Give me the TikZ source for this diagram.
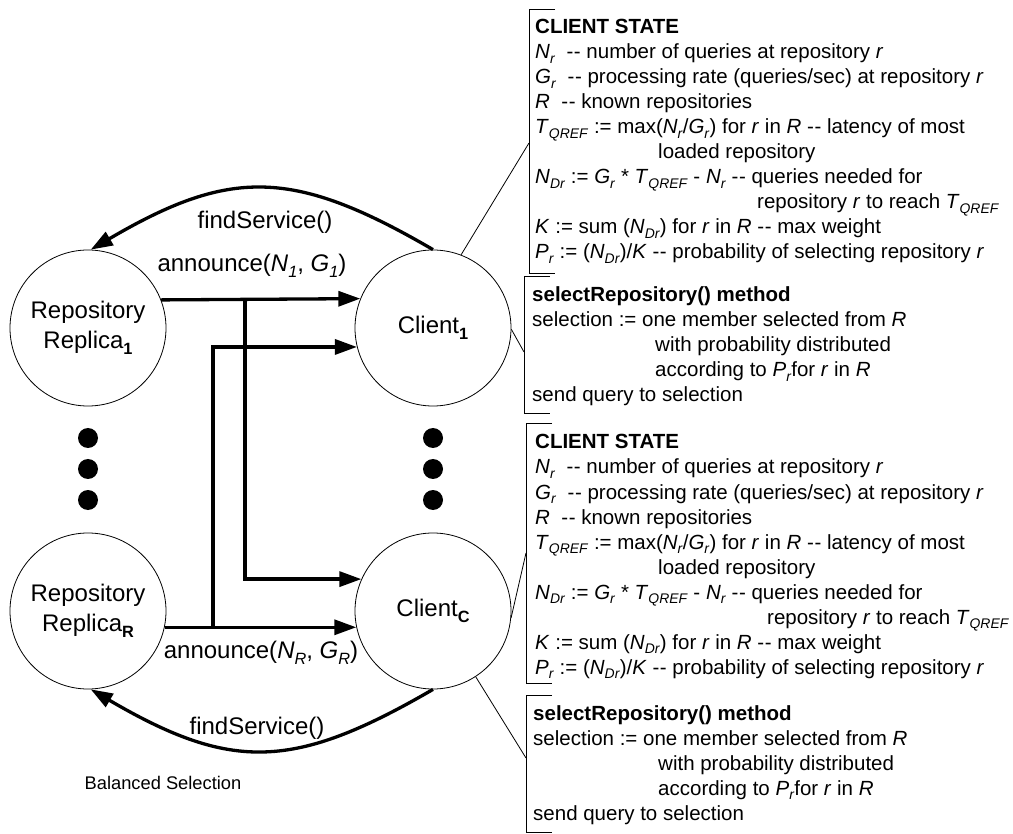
\documentclass[tikz,border=0pt]{standalone}
\usepackage{fontspec}
\setmainfont{Liberation Sans}
\usetikzlibrary{arrows.meta}
\newcommand\mysub[1]{\raisebox{-0.24em}{\fontsize{0.68em}{1em}\selectfont #1}}
\newcommand\vv[2]{\textit{#1}\mysub{\textit{#2}}}
\newcommand\dd{-\kern0.6pt-}
\begin{document}
\begin{tikzpicture}[x=1pt,y=-1pt,
  circ/.style={draw,circle,line width=0.8pt,minimum size=156pt,inner sep=0pt,align=center,font=\fontsize{24}{30}\selectfont},
  lbl/.style={font=\fontsize{24}{28}\selectfont,inner sep=0pt},
  txt/.style={anchor=base west,inner sep=0pt,font=\fontsize{20.5}{25}\selectfont},
  thick arrow/.style={line width=3.3pt,-{Triangle[length=22pt,width=15pt]}},
  thin/.style={line width=0.8pt},
  dot/.style={circle,fill=black,inner sep=0pt,minimum size=20pt}]
\useasboundingbox (0,0) rectangle (1013,834);
% circles
\node[circ] (r1) at (88,328) {Repository\\Replica\mysub{\bfseries 1}};
\node[circ] (c1) at (433,328) {Client\mysub{\bfseries 1}};
\node[circ] (rR) at (88,611) {Repository\\Replica\mysub{\bfseries R}};
\node[circ] (cC) at (433,611) {Client\mysub{\bfseries C}};
% dots
\node[dot] (d1) at (88,438) {};
\node[dot] (d2) at (88,469) {};
\node[dot] (d3) at (88,500) {};
\node[dot] (d4) at (433,438) {};
\node[dot] (d5) at (433,469) {};
\node[dot] (d6) at (433,500) {};
% announce arrows
\coordinate (j1) at (245,299);
\coordinate (j2) at (213,628);
\draw[thick arrow] (r1.21.8) -- (c1.158.2);
\draw[thick arrow] (j1) |- (cC.156.6);
\draw[thick arrow] (rR.-12.6) -- (cC.192.6);
\draw[thick arrow] (j2) |- (c1.194.1);
% findService arcs
\draw[thick arrow] (c1.90) .. controls (293,168) and (230,168) .. (r1.88);
\draw[thick arrow] (cC.-90) .. controls (294,770) and (232,772) .. (rR.-88);
% labels
\node[lbl] (a1) at (252,266) {announce(\vv{N}{1}, \vv{G}{1})};
\node[lbl] (aR) at (261,653) {announce(\vv{N}{R}, \vv{G}{R})};
\node[lbl] (f1) at (265,222) {findService()};
\node[lbl] (fR) at (257,728) {findService()};
\node[inner sep=0pt,font=\fontsize{18.3}{22}\selectfont] (bal) at (163,783) {Balanced Selection};
% brackets
\coordinate (b1t) at (529,9);   \coordinate (b1b) at (529,273);
\coordinate (b2t) at (524,276); \coordinate (b2b) at (524,413);
\coordinate (b3t) at (526,423); \coordinate (b3b) at (526,683);
\coordinate (b4t) at (526,695); \coordinate (b4b) at (526,832);
\draw[thin] ([xshift=26pt]b1t) -- (b1t) -- (b1b) -- ([xshift=26pt]b1b);
\draw[thin] ([xshift=26pt]b2t) -- (b2t) -- (b2b) -- ([xshift=26pt]b2b);
\draw[thin] ([xshift=26pt]b3t) -- (b3t) -- (b3b) -- ([xshift=26pt]b3b);
\draw[thin] ([xshift=26pt]b4t) -- (b4t) -- (b4b) -- ([xshift=26pt]b4b);
% callouts
\coordinate (k1) at (529,143);
\coordinate (k2) at (524,352);
\coordinate (k3) at (526,553);
\coordinate (k4) at (526,758);
\draw[thin] (c1.69.4) -- (k1);
\draw[thin] (c1.-1.5) -- (k2);
\draw[thin] (cC.-5) -- (k3);
\draw[thin] (cC.-57.8) -- (k4);
% box 1
\node[txt] (p1) at (535,34) {\textbf{CLIENT STATE}};
\node[txt] (p2) at (535,59) {\vv{N}{r}\ \ \dd\ number of queries at repository \textit{r}};
\node[txt] (p3) at (535,84) {\vv{G}{r}\ \ \dd\ processing rate (queries/sec) at repository \textit{r}};
\node[txt] (p4) at (535,109) {\textit{R}\ \ \dd\ known repositories};
\node[txt] (p5) at (535,134) {\vv{T}{QREF} := max(\vv{N}{r}/\vv{G}{r}) for \textit{r} in \textit{R} \dd\ latency of most};
\node[txt] (p6) at (658,159) {loaded repository};
\node[txt] (p7) at (535,184) {\vv{N}{Dr} := \vv{G}{r} * \vv{T}{QREF} - \vv{N}{r} \dd\ queries needed for};
\node[txt] (p8) at (757,209) {repository \textit{r} to reach \vv{T}{QREF}};
\node[txt] (p9) at (535,234) {\textit{K} := sum (\vv{N}{Dr}) for \textit{r} in \textit{R} \dd\ max weight};
\node[txt] (p10) at (535,259) {\vv{P}{r} := (\vv{N}{Dr})/\textit{K} \dd\ probability of selecting repository \textit{r}};
% box 2
\node[txt] (q1) at (532,302) {\textbf{selectRepository() method}};
\node[txt] (q2) at (532,327) {selection := one member selected from \textit{R}};
\node[txt] (q3) at (655,352) {with probability distributed};
\node[txt] (q4) at (655,377) {according to \vv{P}{r}for \textit{r} in \textit{R}};
\node[txt] (q5) at (532,402) {send query to selection};
% box 3
\node[txt] (s1) at (535,449) {\textbf{CLIENT STATE}};
\node[txt] (s2) at (535,474) {\vv{N}{r}\ \ \dd\ number of queries at repository \textit{r}};
\node[txt] (s3) at (535,499) {\vv{G}{r}\ \ \dd\ processing rate (queries/sec) at repository \textit{r}};
\node[txt] (s4) at (535,524) {\textit{R}\ \ \dd\ known repositories};
\node[txt] (s5) at (535,549) {\vv{T}{QREF} := max(\vv{N}{r}/\vv{G}{r}) for \textit{r} in \textit{R} \dd\ latency of most};
\node[txt] (s6) at (658,574) {loaded repository};
\node[txt] (s7) at (535,599) {\vv{N}{Dr} := \vv{G}{r} * \vv{T}{QREF} - \vv{N}{r} \dd\ queries needed for};
\node[txt] (s8) at (767,624) {repository \textit{r} to reach \vv{T}{QREF}};
\node[txt] (s9) at (535,649) {\textit{K} := sum (\vv{N}{Dr}) for \textit{r} in \textit{R} \dd\ max weight};
\node[txt] (s10) at (535,674) {\vv{P}{r} := (\vv{N}{Dr})/\textit{K} \dd\ probability of selecting repository \textit{r}};
% box 4
\node[txt] (t1) at (533,720) {\textbf{selectRepository() method}};
\node[txt] (t2) at (533,745) {selection := one member selected from \textit{R}};
\node[txt] (t3) at (658,770) {with probability distributed};
\node[txt] (t4) at (658,795) {according to \vv{P}{r}for \textit{r} in \textit{R}};
\node[txt] (t5) at (533,820) {send query to selection};
\end{tikzpicture}
\end{document}
